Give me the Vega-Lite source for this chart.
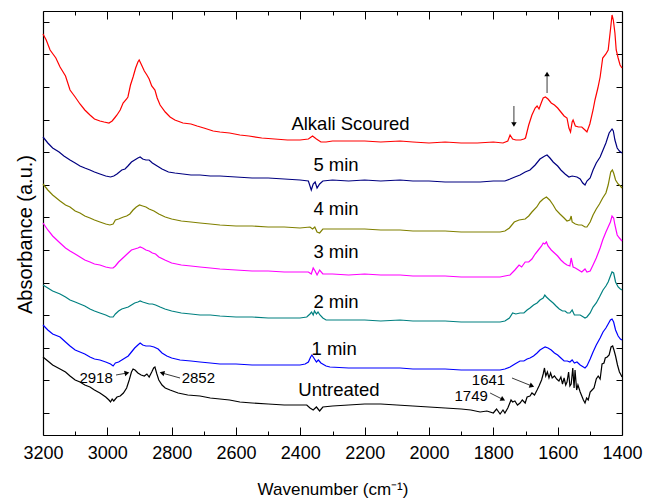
{
"$schema": "https://vega.github.io/schema/vega-lite/v6.json",
"width": 579, "height": 424,
"autosize": {"type": "none"},
"padding": {"left": 43, "top": 11, "right": 25, "bottom": 66},
"config": {"font": "Liberation Sans", "view": {"stroke": null}},
"datasets": {
"spectra": [
{"s":"AS","wn":3200,"a":401},{"s":"AS","wn":3190,"a":395},{"s":"AS","wn":3178,"a":385},{"s":"AS","wn":3160,"a":377},{"s":"AS","wn":3147,"a":368},{"s":"AS","wn":3130,"a":359},{"s":"AS","wn":3116,"a":345},{"s":"AS","wn":3100,"a":338},{"s":"AS","wn":3085,"a":331},{"s":"AS","wn":3070,"a":325},{"s":"AS","wn":3054,"a":320},{"s":"AS","wn":3040,"a":316},{"s":"AS","wn":3023,"a":314},{"s":"AS","wn":3010,"a":313},{"s":"AS","wn":2995,"a":312},{"s":"AS","wn":2985,"a":314},{"s":"AS","wn":2975,"a":318},{"s":"AS","wn":2970,"a":320},{"s":"AS","wn":2960,"a":325},{"s":"AS","wn":2951,"a":332},{"s":"AS","wn":2940,"a":336},{"s":"AS","wn":2936,"a":338},{"s":"AS","wn":2928,"a":350},{"s":"AS","wn":2920,"a":358},{"s":"AS","wn":2912,"a":367},{"s":"AS","wn":2905,"a":373},{"s":"AS","wn":2901,"a":375},{"s":"AS","wn":2895,"a":371},{"s":"AS","wn":2885,"a":364},{"s":"AS","wn":2877,"a":360},{"s":"AS","wn":2870,"a":356},{"s":"AS","wn":2862,"a":349},{"s":"AS","wn":2852,"a":345},{"s":"AS","wn":2845,"a":337},{"s":"AS","wn":2836,"a":330},{"s":"AS","wn":2820,"a":323},{"s":"AS","wn":2805,"a":318},{"s":"AS","wn":2790,"a":315},{"s":"AS","wn":2765,"a":312},{"s":"AS","wn":2740,"a":311},{"s":"AS","wn":2721,"a":309},{"s":"AS","wn":2700,"a":307},{"s":"AS","wn":2671,"a":304},{"s":"AS","wn":2650,"a":303},{"s":"AS","wn":2620,"a":302},{"s":"AS","wn":2588,"a":300},{"s":"AS","wn":2560,"a":299},{"s":"AS","wn":2520,"a":297},{"s":"AS","wn":2480,"a":296},{"s":"AS","wn":2440,"a":295},{"s":"AS","wn":2401,"a":295},{"s":"AS","wn":2375,"a":296},{"s":"AS","wn":2362,"a":299},{"s":"AS","wn":2350,"a":296},{"s":"AS","wn":2336,"a":293},{"s":"AS","wn":2320,"a":293},{"s":"AS","wn":2300,"a":294},{"s":"AS","wn":2250,"a":294},{"s":"AS","wn":2200,"a":294},{"s":"AS","wn":2150,"a":293},{"s":"AS","wn":2090,"a":294},{"s":"AS","wn":2050,"a":293},{"s":"AS","wn":2000,"a":292},{"s":"AS","wn":1950,"a":293},{"s":"AS","wn":1900,"a":292},{"s":"AS","wn":1850,"a":292},{"s":"AS","wn":1800,"a":293},{"s":"AS","wn":1770,"a":292},{"s":"AS","wn":1755,"a":294},{"s":"AS","wn":1748,"a":300},{"s":"AS","wn":1740,"a":296},{"s":"AS","wn":1730,"a":295},{"s":"AS","wn":1715,"a":295},{"s":"AS","wn":1705,"a":296},{"s":"AS","wn":1700,"a":297},{"s":"AS","wn":1690,"a":310},{"s":"AS","wn":1680,"a":320},{"s":"AS","wn":1670,"a":327},{"s":"AS","wn":1664,"a":329},{"s":"AS","wn":1658,"a":326},{"s":"AS","wn":1650,"a":333},{"s":"AS","wn":1645,"a":337},{"s":"AS","wn":1638,"a":338},{"s":"AS","wn":1630,"a":336},{"s":"AS","wn":1620,"a":332},{"s":"AS","wn":1610,"a":330},{"s":"AS","wn":1600,"a":327},{"s":"AS","wn":1590,"a":323},{"s":"AS","wn":1580,"a":319},{"s":"AS","wn":1571,"a":317},{"s":"AS","wn":1565,"a":307},{"s":"AS","wn":1560,"a":303},{"s":"AS","wn":1555,"a":313},{"s":"AS","wn":1552,"a":315},{"s":"AS","wn":1545,"a":309},{"s":"AS","wn":1535,"a":308},{"s":"AS","wn":1525,"a":308},{"s":"AS","wn":1515,"a":305},{"s":"AS","wn":1509,"a":303},{"s":"AS","wn":1500,"a":311},{"s":"AS","wn":1490,"a":325},{"s":"AS","wn":1484,"a":335},{"s":"AS","wn":1475,"a":347},{"s":"AS","wn":1468,"a":358},{"s":"AS","wn":1460,"a":377},{"s":"AS","wn":1450,"a":381},{"s":"AS","wn":1443,"a":385},{"s":"AS","wn":1436,"a":405},{"s":"AS","wn":1431,"a":420},{"s":"AS","wn":1427,"a":415},{"s":"AS","wn":1422,"a":402},{"s":"AS","wn":1418,"a":385},{"s":"AS","wn":1412,"a":377},{"s":"AS","wn":1406,"a":370},{"s":"AS","wn":1400,"a":367},

{"s":"5","wn":3200,"a":298},{"s":"5","wn":3185,"a":292},{"s":"5","wn":3170,"a":287},{"s":"5","wn":3150,"a":283},{"s":"5","wn":3135,"a":279},{"s":"5","wn":3116,"a":275},{"s":"5","wn":3100,"a":272},{"s":"5","wn":3085,"a":269},{"s":"5","wn":3070,"a":267},{"s":"5","wn":3054,"a":265},{"s":"5","wn":3040,"a":263},{"s":"5","wn":3023,"a":261},{"s":"5","wn":3005,"a":259},{"s":"5","wn":2990,"a":258},{"s":"5","wn":2980,"a":259},{"s":"5","wn":2970,"a":261},{"s":"5","wn":2955,"a":265},{"s":"5","wn":2945,"a":266},{"s":"5","wn":2936,"a":269},{"s":"5","wn":2925,"a":273},{"s":"5","wn":2915,"a":275},{"s":"5","wn":2905,"a":277},{"s":"5","wn":2898,"a":278},{"s":"5","wn":2890,"a":276},{"s":"5","wn":2880,"a":275},{"s":"5","wn":2870,"a":275},{"s":"5","wn":2860,"a":272},{"s":"5","wn":2845,"a":269},{"s":"5","wn":2830,"a":266},{"s":"5","wn":2810,"a":263},{"s":"5","wn":2790,"a":262},{"s":"5","wn":2765,"a":261},{"s":"5","wn":2740,"a":260},{"s":"5","wn":2712,"a":260},{"s":"5","wn":2680,"a":259},{"s":"5","wn":2650,"a":259},{"s":"5","wn":2600,"a":258},{"s":"5","wn":2550,"a":257},{"s":"5","wn":2500,"a":257},{"s":"5","wn":2450,"a":256},{"s":"5","wn":2401,"a":255},{"s":"5","wn":2375,"a":254},{"s":"5","wn":2366,"a":245},{"s":"5","wn":2360,"a":251},{"s":"5","wn":2354,"a":253},{"s":"5","wn":2348,"a":247},{"s":"5","wn":2340,"a":251},{"s":"5","wn":2330,"a":254},{"s":"5","wn":2300,"a":255},{"s":"5","wn":2250,"a":254},{"s":"5","wn":2200,"a":255},{"s":"5","wn":2150,"a":254},{"s":"5","wn":2090,"a":255},{"s":"5","wn":2050,"a":254},{"s":"5","wn":2000,"a":254},{"s":"5","wn":1950,"a":253},{"s":"5","wn":1900,"a":253},{"s":"5","wn":1841,"a":253},{"s":"5","wn":1800,"a":254},{"s":"5","wn":1764,"a":254},{"s":"5","wn":1748,"a":256},{"s":"5","wn":1733,"a":258},{"s":"5","wn":1717,"a":260},{"s":"5","wn":1701,"a":263},{"s":"5","wn":1686,"a":265},{"s":"5","wn":1670,"a":270},{"s":"5","wn":1655,"a":276},{"s":"5","wn":1640,"a":279},{"s":"5","wn":1633,"a":280},{"s":"5","wn":1624,"a":277},{"s":"5","wn":1614,"a":273},{"s":"5","wn":1600,"a":269},{"s":"5","wn":1590,"a":265},{"s":"5","wn":1577,"a":261},{"s":"5","wn":1565,"a":258},{"s":"5","wn":1555,"a":259},{"s":"5","wn":1540,"a":258},{"s":"5","wn":1530,"a":256},{"s":"5","wn":1522,"a":252},{"s":"5","wn":1515,"a":250},{"s":"5","wn":1509,"a":254},{"s":"5","wn":1499,"a":257},{"s":"5","wn":1490,"a":265},{"s":"5","wn":1480,"a":272},{"s":"5","wn":1468,"a":278},{"s":"5","wn":1459,"a":285},{"s":"5","wn":1450,"a":292},{"s":"5","wn":1440,"a":302},{"s":"5","wn":1431,"a":306},{"s":"5","wn":1427,"a":304},{"s":"5","wn":1422,"a":295},{"s":"5","wn":1415,"a":287},{"s":"5","wn":1408,"a":284},{"s":"5","wn":1400,"a":282},

{"s":"4","wn":3200,"a":251},{"s":"4","wn":3185,"a":245},{"s":"4","wn":3170,"a":240},{"s":"4","wn":3147,"a":234},{"s":"4","wn":3130,"a":230},{"s":"4","wn":3116,"a":228},{"s":"4","wn":3100,"a":224},{"s":"4","wn":3085,"a":222},{"s":"4","wn":3070,"a":219},{"s":"4","wn":3054,"a":217},{"s":"4","wn":3040,"a":215},{"s":"4","wn":3023,"a":213},{"s":"4","wn":3005,"a":211},{"s":"4","wn":2992,"a":210},{"s":"4","wn":2982,"a":211},{"s":"4","wn":2975,"a":215},{"s":"4","wn":2965,"a":216},{"s":"4","wn":2950,"a":218},{"s":"4","wn":2940,"a":219},{"s":"4","wn":2930,"a":221},{"s":"4","wn":2920,"a":225},{"s":"4","wn":2910,"a":228},{"s":"4","wn":2900,"a":230},{"s":"4","wn":2890,"a":229},{"s":"4","wn":2880,"a":228},{"s":"4","wn":2870,"a":226},{"s":"4","wn":2855,"a":224},{"s":"4","wn":2840,"a":221},{"s":"4","wn":2820,"a":218},{"s":"4","wn":2800,"a":216},{"s":"4","wn":2770,"a":214},{"s":"4","wn":2740,"a":213},{"s":"4","wn":2712,"a":212},{"s":"4","wn":2680,"a":211},{"s":"4","wn":2650,"a":210},{"s":"4","wn":2600,"a":209},{"s":"4","wn":2550,"a":209},{"s":"4","wn":2500,"a":208},{"s":"4","wn":2450,"a":208},{"s":"4","wn":2401,"a":207},{"s":"4","wn":2370,"a":208},{"s":"4","wn":2362,"a":206},{"s":"4","wn":2355,"a":208},{"s":"4","wn":2348,"a":203},{"s":"4","wn":2340,"a":202},{"s":"4","wn":2330,"a":206},{"s":"4","wn":2300,"a":206},{"s":"4","wn":2250,"a":206},{"s":"4","wn":2200,"a":206},{"s":"4","wn":2150,"a":205},{"s":"4","wn":2090,"a":205},{"s":"4","wn":2050,"a":204},{"s":"4","wn":2000,"a":204},{"s":"4","wn":1950,"a":204},{"s":"4","wn":1900,"a":203},{"s":"4","wn":1841,"a":203},{"s":"4","wn":1800,"a":203},{"s":"4","wn":1779,"a":203},{"s":"4","wn":1764,"a":204},{"s":"4","wn":1750,"a":207},{"s":"4","wn":1735,"a":213},{"s":"4","wn":1720,"a":215},{"s":"4","wn":1701,"a":216},{"s":"4","wn":1690,"a":219},{"s":"4","wn":1680,"a":223},{"s":"4","wn":1665,"a":228},{"s":"4","wn":1655,"a":233},{"s":"4","wn":1645,"a":236},{"s":"4","wn":1635,"a":238},{"s":"4","wn":1625,"a":235},{"s":"4","wn":1614,"a":230},{"s":"4","wn":1605,"a":225},{"s":"4","wn":1593,"a":221},{"s":"4","wn":1580,"a":217},{"s":"4","wn":1571,"a":214},{"s":"4","wn":1562,"a":215},{"s":"4","wn":1558,"a":219},{"s":"4","wn":1555,"a":213},{"s":"4","wn":1545,"a":211},{"s":"4","wn":1535,"a":210},{"s":"4","wn":1525,"a":210},{"s":"4","wn":1515,"a":208},{"s":"4","wn":1509,"a":208},{"s":"4","wn":1499,"a":213},{"s":"4","wn":1490,"a":220},{"s":"4","wn":1480,"a":226},{"s":"4","wn":1470,"a":231},{"s":"4","wn":1460,"a":237},{"s":"4","wn":1450,"a":242},{"s":"4","wn":1443,"a":250},{"s":"4","wn":1435,"a":263},{"s":"4","wn":1430,"a":265},{"s":"4","wn":1426,"a":262},{"s":"4","wn":1420,"a":255},{"s":"4","wn":1412,"a":251},{"s":"4","wn":1405,"a":249},{"s":"4","wn":1400,"a":247},

{"s":"3","wn":3200,"a":212},{"s":"3","wn":3185,"a":205},{"s":"3","wn":3170,"a":199},{"s":"3","wn":3147,"a":192},{"s":"3","wn":3130,"a":187},{"s":"3","wn":3116,"a":184},{"s":"3","wn":3100,"a":181},{"s":"3","wn":3085,"a":178},{"s":"3","wn":3070,"a":175},{"s":"3","wn":3054,"a":173},{"s":"3","wn":3040,"a":171},{"s":"3","wn":3023,"a":170},{"s":"3","wn":3005,"a":168},{"s":"3","wn":2990,"a":167},{"s":"3","wn":2982,"a":167},{"s":"3","wn":2975,"a":169},{"s":"3","wn":2965,"a":173},{"s":"3","wn":2955,"a":176},{"s":"3","wn":2945,"a":179},{"s":"3","wn":2935,"a":182},{"s":"3","wn":2925,"a":185},{"s":"3","wn":2915,"a":186},{"s":"3","wn":2905,"a":187},{"s":"3","wn":2898,"a":188},{"s":"3","wn":2890,"a":187},{"s":"3","wn":2880,"a":185},{"s":"3","wn":2870,"a":184},{"s":"3","wn":2860,"a":182},{"s":"3","wn":2850,"a":181},{"s":"3","wn":2840,"a":178},{"s":"3","wn":2821,"a":175},{"s":"3","wn":2800,"a":172},{"s":"3","wn":2770,"a":170},{"s":"3","wn":2740,"a":169},{"s":"3","wn":2712,"a":168},{"s":"3","wn":2680,"a":167},{"s":"3","wn":2650,"a":166},{"s":"3","wn":2600,"a":165},{"s":"3","wn":2550,"a":164},{"s":"3","wn":2500,"a":164},{"s":"3","wn":2450,"a":163},{"s":"3","wn":2401,"a":163},{"s":"3","wn":2375,"a":163},{"s":"3","wn":2366,"a":161},{"s":"3","wn":2360,"a":167},{"s":"3","wn":2354,"a":164},{"s":"3","wn":2348,"a":160},{"s":"3","wn":2340,"a":165},{"s":"3","wn":2330,"a":161},{"s":"3","wn":2300,"a":161},{"s":"3","wn":2250,"a":160},{"s":"3","wn":2200,"a":161},{"s":"3","wn":2150,"a":160},{"s":"3","wn":2090,"a":160},{"s":"3","wn":2050,"a":159},{"s":"3","wn":2000,"a":159},{"s":"3","wn":1950,"a":159},{"s":"3","wn":1900,"a":158},{"s":"3","wn":1841,"a":158},{"s":"3","wn":1800,"a":158},{"s":"3","wn":1779,"a":158},{"s":"3","wn":1764,"a":159},{"s":"3","wn":1748,"a":160},{"s":"3","wn":1733,"a":165},{"s":"3","wn":1720,"a":170},{"s":"3","wn":1712,"a":168},{"s":"3","wn":1701,"a":173},{"s":"3","wn":1690,"a":173},{"s":"3","wn":1680,"a":176},{"s":"3","wn":1670,"a":181},{"s":"3","wn":1660,"a":185},{"s":"3","wn":1650,"a":189},{"s":"3","wn":1645,"a":192},{"s":"3","wn":1640,"a":191},{"s":"3","wn":1635,"a":193},{"s":"3","wn":1630,"a":189},{"s":"3","wn":1620,"a":185},{"s":"3","wn":1610,"a":182},{"s":"3","wn":1600,"a":179},{"s":"3","wn":1590,"a":175},{"s":"3","wn":1580,"a":172},{"s":"3","wn":1571,"a":170},{"s":"3","wn":1562,"a":169},{"s":"3","wn":1558,"a":177},{"s":"3","wn":1552,"a":168},{"s":"3","wn":1545,"a":167},{"s":"3","wn":1535,"a":165},{"s":"3","wn":1525,"a":163},{"s":"3","wn":1515,"a":166},{"s":"3","wn":1509,"a":163},{"s":"3","wn":1499,"a":164},{"s":"3","wn":1490,"a":170},{"s":"3","wn":1480,"a":177},{"s":"3","wn":1468,"a":187},{"s":"3","wn":1460,"a":195},{"s":"3","wn":1450,"a":203},{"s":"3","wn":1443,"a":208},{"s":"3","wn":1436,"a":213},{"s":"3","wn":1431,"a":219},{"s":"3","wn":1426,"a":217},{"s":"3","wn":1422,"a":210},{"s":"3","wn":1415,"a":200},{"s":"3","wn":1408,"a":197},{"s":"3","wn":1400,"a":194},

{"s":"2","wn":3200,"a":150},{"s":"2","wn":3185,"a":147},{"s":"2","wn":3170,"a":144},{"s":"2","wn":3147,"a":141},{"s":"2","wn":3130,"a":138},{"s":"2","wn":3116,"a":135},{"s":"2","wn":3100,"a":133},{"s":"2","wn":3085,"a":131},{"s":"2","wn":3070,"a":129},{"s":"2","wn":3054,"a":126},{"s":"2","wn":3040,"a":124},{"s":"2","wn":3023,"a":122},{"s":"2","wn":3005,"a":120},{"s":"2","wn":2992,"a":118},{"s":"2","wn":2982,"a":118},{"s":"2","wn":2975,"a":121},{"s":"2","wn":2965,"a":124},{"s":"2","wn":2955,"a":126},{"s":"2","wn":2945,"a":127},{"s":"2","wn":2935,"a":128},{"s":"2","wn":2925,"a":130},{"s":"2","wn":2915,"a":132},{"s":"2","wn":2905,"a":133},{"s":"2","wn":2898,"a":134},{"s":"2","wn":2890,"a":133},{"s":"2","wn":2880,"a":132},{"s":"2","wn":2870,"a":131},{"s":"2","wn":2860,"a":131},{"s":"2","wn":2850,"a":130},{"s":"2","wn":2836,"a":128},{"s":"2","wn":2821,"a":126},{"s":"2","wn":2800,"a":124},{"s":"2","wn":2770,"a":122},{"s":"2","wn":2740,"a":121},{"s":"2","wn":2712,"a":120},{"s":"2","wn":2680,"a":120},{"s":"2","wn":2650,"a":119},{"s":"2","wn":2600,"a":118},{"s":"2","wn":2550,"a":118},{"s":"2","wn":2500,"a":117},{"s":"2","wn":2450,"a":117},{"s":"2","wn":2401,"a":117},{"s":"2","wn":2380,"a":118},{"s":"2","wn":2370,"a":121},{"s":"2","wn":2365,"a":123},{"s":"2","wn":2360,"a":120},{"s":"2","wn":2356,"a":124},{"s":"2","wn":2350,"a":121},{"s":"2","wn":2345,"a":123},{"s":"2","wn":2339,"a":120},{"s":"2","wn":2330,"a":117},{"s":"2","wn":2320,"a":115},{"s":"2","wn":2300,"a":115},{"s":"2","wn":2250,"a":115},{"s":"2","wn":2200,"a":115},{"s":"2","wn":2150,"a":114},{"s":"2","wn":2090,"a":115},{"s":"2","wn":2050,"a":114},{"s":"2","wn":2000,"a":114},{"s":"2","wn":1950,"a":114},{"s":"2","wn":1900,"a":113},{"s":"2","wn":1841,"a":113},{"s":"2","wn":1800,"a":113},{"s":"2","wn":1779,"a":113},{"s":"2","wn":1764,"a":114},{"s":"2","wn":1750,"a":117},{"s":"2","wn":1740,"a":122},{"s":"2","wn":1730,"a":121},{"s":"2","wn":1717,"a":122},{"s":"2","wn":1705,"a":122},{"s":"2","wn":1695,"a":125},{"s":"2","wn":1686,"a":127},{"s":"2","wn":1675,"a":130},{"s":"2","wn":1664,"a":132},{"s":"2","wn":1655,"a":135},{"s":"2","wn":1645,"a":137},{"s":"2","wn":1640,"a":140},{"s":"2","wn":1635,"a":138},{"s":"2","wn":1625,"a":135},{"s":"2","wn":1614,"a":132},{"s":"2","wn":1605,"a":129},{"s":"2","wn":1595,"a":126},{"s":"2","wn":1585,"a":124},{"s":"2","wn":1577,"a":124},{"s":"2","wn":1570,"a":122},{"s":"2","wn":1562,"a":122},{"s":"2","wn":1555,"a":125},{"s":"2","wn":1548,"a":120},{"s":"2","wn":1540,"a":120},{"s":"2","wn":1530,"a":120},{"s":"2","wn":1520,"a":118},{"s":"2","wn":1515,"a":117},{"s":"2","wn":1509,"a":118},{"s":"2","wn":1499,"a":122},{"s":"2","wn":1490,"a":128},{"s":"2","wn":1480,"a":132},{"s":"2","wn":1470,"a":138},{"s":"2","wn":1459,"a":145},{"s":"2","wn":1450,"a":149},{"s":"2","wn":1443,"a":153},{"s":"2","wn":1436,"a":159},{"s":"2","wn":1431,"a":163},{"s":"2","wn":1426,"a":162},{"s":"2","wn":1420,"a":153},{"s":"2","wn":1412,"a":148},{"s":"2","wn":1405,"a":146},{"s":"2","wn":1400,"a":145},

{"s":"1","wn":3200,"a":110},{"s":"1","wn":3185,"a":105},{"s":"1","wn":3170,"a":101},{"s":"1","wn":3147,"a":98},{"s":"1","wn":3130,"a":93},{"s":"1","wn":3116,"a":89},{"s":"1","wn":3100,"a":85},{"s":"1","wn":3085,"a":83},{"s":"1","wn":3070,"a":81},{"s":"1","wn":3054,"a":78},{"s":"1","wn":3040,"a":76},{"s":"1","wn":3023,"a":75},{"s":"1","wn":3005,"a":73},{"s":"1","wn":2990,"a":71},{"s":"1","wn":2982,"a":69},{"s":"1","wn":2975,"a":72},{"s":"1","wn":2965,"a":73},{"s":"1","wn":2955,"a":75},{"s":"1","wn":2945,"a":77},{"s":"1","wn":2935,"a":79},{"s":"1","wn":2925,"a":83},{"s":"1","wn":2915,"a":87},{"s":"1","wn":2905,"a":90},{"s":"1","wn":2898,"a":92},{"s":"1","wn":2890,"a":90},{"s":"1","wn":2880,"a":89},{"s":"1","wn":2867,"a":89},{"s":"1","wn":2855,"a":88},{"s":"1","wn":2842,"a":86},{"s":"1","wn":2830,"a":82},{"s":"1","wn":2815,"a":79},{"s":"1","wn":2800,"a":77},{"s":"1","wn":2774,"a":75},{"s":"1","wn":2740,"a":74},{"s":"1","wn":2712,"a":73},{"s":"1","wn":2680,"a":72},{"s":"1","wn":2650,"a":71},{"s":"1","wn":2600,"a":71},{"s":"1","wn":2550,"a":70},{"s":"1","wn":2500,"a":70},{"s":"1","wn":2450,"a":70},{"s":"1","wn":2401,"a":70},{"s":"1","wn":2385,"a":71},{"s":"1","wn":2375,"a":73},{"s":"1","wn":2368,"a":78},{"s":"1","wn":2364,"a":80},{"s":"1","wn":2358,"a":77},{"s":"1","wn":2350,"a":73},{"s":"1","wn":2344,"a":75},{"s":"1","wn":2336,"a":72},{"s":"1","wn":2320,"a":69},{"s":"1","wn":2308,"a":68},{"s":"1","wn":2250,"a":67},{"s":"1","wn":2200,"a":67},{"s":"1","wn":2150,"a":67},{"s":"1","wn":2090,"a":67},{"s":"1","wn":2050,"a":66},{"s":"1","wn":2000,"a":66},{"s":"1","wn":1950,"a":66},{"s":"1","wn":1900,"a":65},{"s":"1","wn":1841,"a":65},{"s":"1","wn":1800,"a":65},{"s":"1","wn":1779,"a":65},{"s":"1","wn":1764,"a":66},{"s":"1","wn":1748,"a":68},{"s":"1","wn":1733,"a":71},{"s":"1","wn":1717,"a":74},{"s":"1","wn":1705,"a":74},{"s":"1","wn":1695,"a":76},{"s":"1","wn":1686,"a":77},{"s":"1","wn":1675,"a":79},{"s":"1","wn":1664,"a":82},{"s":"1","wn":1655,"a":85},{"s":"1","wn":1645,"a":87},{"s":"1","wn":1639,"a":88},{"s":"1","wn":1630,"a":87},{"s":"1","wn":1620,"a":85},{"s":"1","wn":1610,"a":82},{"s":"1","wn":1600,"a":80},{"s":"1","wn":1590,"a":77},{"s":"1","wn":1580,"a":74},{"s":"1","wn":1570,"a":74},{"s":"1","wn":1562,"a":73},{"s":"1","wn":1555,"a":75},{"s":"1","wn":1548,"a":72},{"s":"1","wn":1540,"a":73},{"s":"1","wn":1530,"a":70},{"s":"1","wn":1520,"a":68},{"s":"1","wn":1515,"a":67},{"s":"1","wn":1509,"a":69},{"s":"1","wn":1499,"a":76},{"s":"1","wn":1490,"a":83},{"s":"1","wn":1480,"a":90},{"s":"1","wn":1468,"a":97},{"s":"1","wn":1459,"a":103},{"s":"1","wn":1450,"a":107},{"s":"1","wn":1443,"a":111},{"s":"1","wn":1436,"a":115},{"s":"1","wn":1431,"a":116},{"s":"1","wn":1426,"a":113},{"s":"1","wn":1420,"a":105},{"s":"1","wn":1412,"a":99},{"s":"1","wn":1405,"a":96},{"s":"1","wn":1400,"a":95},

{"s":"U","wn":3200,"a":78},{"s":"U","wn":3185,"a":74},{"s":"U","wn":3170,"a":70},{"s":"U","wn":3147,"a":66},{"s":"U","wn":3130,"a":63},{"s":"U","wn":3116,"a":59},{"s":"U","wn":3100,"a":55},{"s":"U","wn":3085,"a":53},{"s":"U","wn":3070,"a":50},{"s":"U","wn":3054,"a":48},{"s":"U","wn":3040,"a":45},{"s":"U","wn":3023,"a":42},{"s":"U","wn":3005,"a":38},{"s":"U","wn":2995,"a":35},{"s":"U","wn":2990,"a":33},{"s":"U","wn":2985,"a":36},{"s":"U","wn":2980,"a":34},{"s":"U","wn":2970,"a":38},{"s":"U","wn":2960,"a":39},{"s":"U","wn":2950,"a":42},{"s":"U","wn":2940,"a":47},{"s":"U","wn":2932,"a":55},{"s":"U","wn":2925,"a":63},{"s":"U","wn":2920,"a":66},{"s":"U","wn":2914,"a":65},{"s":"U","wn":2905,"a":62},{"s":"U","wn":2895,"a":60},{"s":"U","wn":2885,"a":59},{"s":"U","wn":2877,"a":61},{"s":"U","wn":2870,"a":58},{"s":"U","wn":2862,"a":63},{"s":"U","wn":2856,"a":67},{"s":"U","wn":2852,"a":68},{"s":"U","wn":2846,"a":61},{"s":"U","wn":2840,"a":55},{"s":"U","wn":2830,"a":50},{"s":"U","wn":2820,"a":47},{"s":"U","wn":2805,"a":45},{"s":"U","wn":2780,"a":42},{"s":"U","wn":2750,"a":40},{"s":"U","wn":2712,"a":39},{"s":"U","wn":2680,"a":37},{"s":"U","wn":2650,"a":36},{"s":"U","wn":2620,"a":35},{"s":"U","wn":2588,"a":33},{"s":"U","wn":2550,"a":32},{"s":"U","wn":2500,"a":31},{"s":"U","wn":2450,"a":30},{"s":"U","wn":2401,"a":30},{"s":"U","wn":2380,"a":30},{"s":"U","wn":2370,"a":27},{"s":"U","wn":2360,"a":25},{"s":"U","wn":2350,"a":28},{"s":"U","wn":2340,"a":24},{"s":"U","wn":2330,"a":28},{"s":"U","wn":2300,"a":29},{"s":"U","wn":2250,"a":30},{"s":"U","wn":2200,"a":31},{"s":"U","wn":2150,"a":31},{"s":"U","wn":2100,"a":30},{"s":"U","wn":2050,"a":29},{"s":"U","wn":2000,"a":28},{"s":"U","wn":1950,"a":27},{"s":"U","wn":1900,"a":26},{"s":"U","wn":1870,"a":25},{"s":"U","wn":1841,"a":23},{"s":"U","wn":1820,"a":24},{"s":"U","wn":1800,"a":22},{"s":"U","wn":1790,"a":26},{"s":"U","wn":1779,"a":21},{"s":"U","wn":1770,"a":25},{"s":"U","wn":1764,"a":22},{"s":"U","wn":1755,"a":27},{"s":"U","wn":1750,"a":31},{"s":"U","wn":1745,"a":35},{"s":"U","wn":1740,"a":33},{"s":"U","wn":1733,"a":34},{"s":"U","wn":1725,"a":30},{"s":"U","wn":1717,"a":32},{"s":"U","wn":1710,"a":35},{"s":"U","wn":1701,"a":32},{"s":"U","wn":1695,"a":38},{"s":"U","wn":1686,"a":39},{"s":"U","wn":1680,"a":42},{"s":"U","wn":1672,"a":40},{"s":"U","wn":1664,"a":45},{"s":"U","wn":1658,"a":49},{"s":"U","wn":1650,"a":55},{"s":"U","wn":1645,"a":61},{"s":"U","wn":1641,"a":67},{"s":"U","wn":1637,"a":59},{"s":"U","wn":1632,"a":63},{"s":"U","wn":1627,"a":57},{"s":"U","wn":1622,"a":62},{"s":"U","wn":1617,"a":57},{"s":"U","wn":1610,"a":59},{"s":"U","wn":1603,"a":56},{"s":"U","wn":1596,"a":54},{"s":"U","wn":1590,"a":58},{"s":"U","wn":1585,"a":51},{"s":"U","wn":1580,"a":57},{"s":"U","wn":1575,"a":50},{"s":"U","wn":1571,"a":53},{"s":"U","wn":1566,"a":63},{"s":"U","wn":1562,"a":49},{"s":"U","wn":1558,"a":51},{"s":"U","wn":1553,"a":67},{"s":"U","wn":1549,"a":47},{"s":"U","wn":1546,"a":65},{"s":"U","wn":1541,"a":45},{"s":"U","wn":1537,"a":50},{"s":"U","wn":1530,"a":43},{"s":"U","wn":1525,"a":39},{"s":"U","wn":1520,"a":35},{"s":"U","wn":1515,"a":32},{"s":"U","wn":1510,"a":37},{"s":"U","wn":1505,"a":35},{"s":"U","wn":1499,"a":43},{"s":"U","wn":1493,"a":45},{"s":"U","wn":1487,"a":47},{"s":"U","wn":1480,"a":56},{"s":"U","wn":1474,"a":59},{"s":"U","wn":1468,"a":56},{"s":"U","wn":1462,"a":71},{"s":"U","wn":1456,"a":72},{"s":"U","wn":1452,"a":77},{"s":"U","wn":1446,"a":78},{"s":"U","wn":1440,"a":80},{"s":"U","wn":1434,"a":88},{"s":"U","wn":1429,"a":89},{"s":"U","wn":1425,"a":85},{"s":"U","wn":1420,"a":79},{"s":"U","wn":1414,"a":70},{"s":"U","wn":1408,"a":63},{"s":"U","wn":1403,"a":60},{"s":"U","wn":1400,"a":58}
],
"labels": [
{"t":"Alkali Scoured","wn":2244,"a":311.5},
{"t":"5 min","wn":2289,"a":270},
{"t":"4 min","wn":2289,"a":226.5},
{"t":"3 min","wn":2289,"a":183.5},
{"t":"2 min","wn":2289,"a":133.5},
{"t":"1 min","wn":2295,"a":86.5},
{"t":"Untreated","wn":2280,"a":45}
],
"peaks": [
{"t":"2918","wn":3035,"a":57.5},
{"t":"2852","wn":2717,"a":57.5},
{"t":"1641","wn":1815,"a":55},
{"t":"1749","wn":1869,"a":39}
],
"arrows": [
{"wn1":2973,"a1":60,"wn2":2939,"a2":62,"ang":78},
{"wn1":2774,"a1":57,"wn2":2830,"a2":62,"ang":286},
{"wn1":1742,"a1":57,"wn2":1680,"a2":49,"ang":111},
{"wn1":1810,"a1":42,"wn2":1770,"a2":35.5,"ang":117},
{"wn1":1736,"a1":329,"wn2":1736,"a2":310.5,"ang":180},
{"wn1":1633,"a1":342,"wn2":1633,"a2":361,"ang":0}
]
},
"layer": [
{
"data": {"name": "spectra"},
"mark": {"type": "line", "strokeWidth": 1.2},
"encoding": {
"x": {"field": "wn", "type": "quantitative",
"scale": {"domain": [1400, 3200], "reverse": true, "nice": false, "zero": false},
"axis": {"orient": "bottom", "title": "Wavenumber (cm⁻¹)",
"values": [3200,3100,3000,2900,2800,2700,2600,2500,2400,2300,2200,2100,2000,1900,1800,1700,1600,1500,1400],
"labelExpr": "datum.value % 200 === 0 ? datum.label : ''",
"format": "d",
"tickSize": {"condition": {"test": "datum.value % 200 === 0", "value": -8}, "value": -4},
"grid": false, "domainColor": "black", "domainWidth": 1.2, "tickColor": "black", "tickWidth": 1,
"labelColor": "black", "labelFontSize": 18, "labelPadding": 17, "labelFlush": false, "labelOverlap": false,
"titleColor": "black", "titleFontSize": 17, "titleFontWeight": "normal", "titlePadding": 15}},
"y": {"field": "a", "type": "quantitative",
"scale": {"domain": [0, 424], "nice": false, "zero": false},
"axis": {"orient": "left", "title": "Absorbance (a.u.)",
"values": [22,54.6,87.2,119.8,152.4,185,217.6,250.2,282.8,315.4,348,380.6,413.2],
"labels": false, "tickSize": -6, "grid": false, "domainColor": "black", "domainWidth": 1.2, "tickColor": "black",
"titleColor": "black", "titleFontSize": 20, "titleFontWeight": "normal", "titlePadding": 7, "titleY": 223}},
"color": {"field": "s", "type": "nominal", "legend": null,
"scale": {"domain": ["AS","5","4","3","2","1","U"], "range": ["#ff0000","#000080","#808000","#ff00ff","#008080","#0000ff","#000000"]}}
}
},
{
"data": {"name": "arrows"},
"mark": {"type": "rule", "color": "#222222", "strokeWidth": 0.9},
"encoding": {
"x": {"field": "wn1", "type": "quantitative",
"axis": {"orient": "top", "title": null, "labels": false,
"values": [3200,3100,3000,2900,2800,2700,2600,2500,2400,2300,2200,2100,2000,1900,1800,1700,1600,1500,1400],
"tickSize": {"condition": {"test": "datum.value % 200 === 0", "value": -8}, "value": -4},
"grid": false, "domainColor": "black", "domainWidth": 1.2, "tickColor": "black"}},
"x2": {"field": "wn2"},
"y": {"field": "a1", "type": "quantitative",
"axis": {"orient": "right", "title": null, "labels": false,
"values": [22,54.6,87.2,119.8,152.4,185,217.6,250.2,282.8,315.4,348,380.6,413.2],
"tickSize": -6, "grid": false, "domainColor": "black", "domainWidth": 1.2, "tickColor": "black"}},
"y2": {"field": "a2"}
}
},
{
"data": {"name": "arrows"},
"mark": {"type": "point", "shape": "triangle-up", "filled": true, "color": "black", "size": 30, "opacity": 1},
"encoding": {
"x": {"field": "wn2", "type": "quantitative", "axis": null},
"y": {"field": "a2", "type": "quantitative", "axis": null},
"angle": {"field": "ang", "type": "quantitative", "scale": null}
}
},
{
"data": {"name": "labels"},
"mark": {"type": "text", "fontSize": 18.5, "color": "black", "align": "center", "baseline": "middle"},
"encoding": {
"x": {"field": "wn", "type": "quantitative", "axis": null},
"y": {"field": "a", "type": "quantitative", "axis": null},
"text": {"field": "t"}
}
},
{
"data": {"name": "peaks"},
"mark": {"type": "text", "fontSize": 15, "color": "black", "align": "center", "baseline": "middle"},
"encoding": {
"x": {"field": "wn", "type": "quantitative", "axis": null},
"y": {"field": "a", "type": "quantitative", "axis": null},
"text": {"field": "t"}
}
}
]
}
